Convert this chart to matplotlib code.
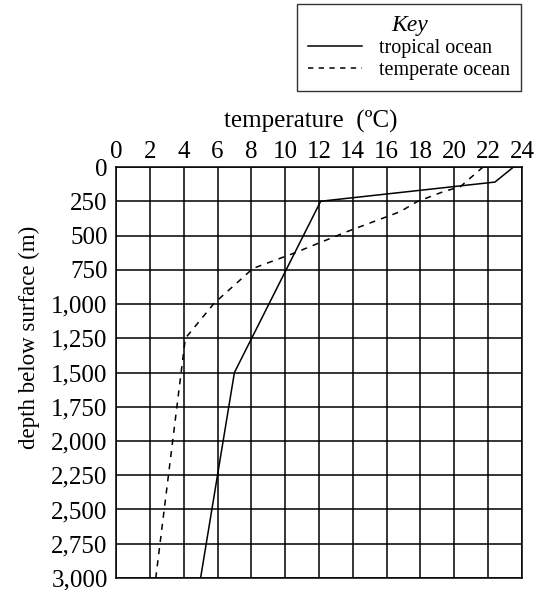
import numpy as np
from matplotlib import pyplot as plt
from matplotlib.lines import Line2D

plt.rcParams['font.family'] = ['Liberation Serif', 'DejaVu Serif']

# tropical ocean profile (temperature degC, depth m)
trop_temp = [23.5, 22.4, 12.1, 7.0, 5.0]
trop_depth = [0, 110, 250, 1500, 3000]

# temperate ocean profile
temp_temp = [21.7, 20.35, 19.35, 17.8, 16.8, 13.65, 10.5, 8.1, 5.8, 4.1, 3.7, 2.35]
temp_depth = [0, 144, 180, 253, 326, 472, 630, 740, 995, 1250, 1650, 3000]

x_ticks = np.arange(0, 25, 2)
y_ticks = np.arange(0, 3001, 250)
y_labels = ['{:,}'.format(v) for v in y_ticks]

fig = plt.figure(figsize=(5.38, 5.9), dpi=100)
ax = fig.add_axes([116 / 538, 1 - 578 / 590, 406 / 538, 411 / 590])

ax.plot(trop_temp, trop_depth, color='black', lw=1.1, solid_joinstyle='miter')
ax.plot(temp_temp, temp_depth, color='black', lw=1.1, ls=(0, (4, 4)))

ax.set_xlim(0, 24)
ax.set_ylim(3000, 0)
ax.set_xticks(x_ticks)
ax.set_yticks(y_ticks)
ax.set_yticklabels(y_labels)
ax.xaxis.tick_top()
ax.xaxis.set_label_position('top')
ax.tick_params(length=0, labelsize=18)
ax.tick_params(axis='y', pad=6)
ax.tick_params(axis='x', pad=3)
ax.grid(True, color='black', lw=1.1)
for s in ax.spines.values():
    s.set_linewidth(1.1)
ax.set_xlabel('temperature  (ºC)', fontsize=18)
ax.xaxis.set_label_coords(0.48, 1.095)
ax.set_ylabel('depth below surface (m)', fontsize=16.5)
ax.yaxis.set_label_coords(-0.188, 0.586)

handles = [Line2D([], [], color='black', lw=1.1),
           Line2D([], [], color='black', lw=1.1, ls=(0, (3.5, 3.5)))]
leg = fig.legend(handles, ['tropical ocean', 'temperate ocean'],
                 loc='upper right', bbox_to_anchor=(521 / 538, 1 - 4 / 590),
                 title='Key', fontsize=14.5, frameon=True, fancybox=False,
                 edgecolor='black', handlelength=2.65, handletextpad=0.85,
                 borderpad=0.55, labelspacing=0.15, borderaxespad=0,
                 title_fontproperties={'style': 'italic', 'size': 17})
leg.get_frame().set_linewidth(1.0)

fig.savefig('out.png', dpi=100)
